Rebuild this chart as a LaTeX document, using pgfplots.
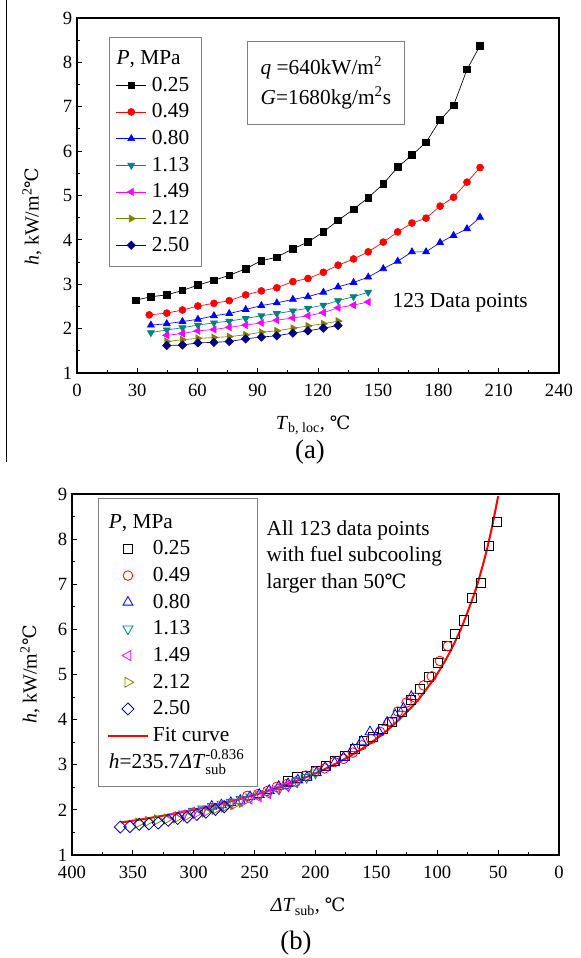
\documentclass[border=0pt]{standalone}
\usepackage{pgfplots}
\pgfplotsset{compat=1.18}
\usepackage{amsmath}
\usepackage{fontspec}
\setmainfont{Liberation Serif}
\newfontfamily\dejavu{DejaVu Serif}[Scale=0.92]
\newcommand{\dC}{{\dejavu ℃}}
\definecolor{oteal}{RGB}{0,128,128}
\definecolor{omag}{RGB}{255,0,255}
\definecolor{oolive}{RGB}{128,128,0}
\definecolor{onavy}{RGB}{0,0,128}
\pgfplotsset{
  myax/.style={
    scale only axis,
    axis line style={line width=0.8pt},
    tick align=inside,
    xtick pos=left, ytick pos=left,
    minor tick num=1,
    major tick length=3.75pt, minor tick length=2.25pt,
    every tick/.style={line width=0.7pt, black},
    ymin=1, ymax=9, ytick={1,2,...,9},
    tick label style={font=\fontsize{14}{16}\selectfont},
    /pgf/number format/assume math mode=true,
    xticklabel style={yshift=-5pt},
    legend cell align=left,
    label style={font=\fontsize{15}{17}\selectfont},
  }
}
\begin{document}
\begin{tikzpicture}
\path[use as bounding box] (0pt,0pt) rectangle (435.75pt,-718.5pt);
\draw[line width=0.75pt] (4.5pt,0pt) -- (4.5pt,-346.5pt);
% ---------- panel (a) ----------
\begin{axis}[myax,
  at={(57.75pt,-279.75pt)}, anchor=south west,
  width=361.5pt, height=266.25pt,
  xmin=0, xmax=240, xtick={0,30,...,240},
  xlabel={\textit{T}\textsubscript{b, loc}, \dC},
  ylabel={\textit{h}, kW/m\textsuperscript{2}\dC},
  x label style={at={(axis description cs:0.49,-0.1465)}, anchor=center},
  y label style={at={(axis description cs:-0.0934,0.44)}, anchor=center},
  legend image code/.code={\draw[mark repeat=2,mark phase=2,#1] plot coordinates {(0pt,0pt) (11.25pt,0pt) (22.5pt,0pt)};},
  legend style={at={(0.0664,0.9465)}, anchor=north west, draw=gray, inner xsep=5pt, inner ysep=6pt,
    font=\fontsize{16}{18}\selectfont, row sep=0pt,
    nodes={inner xsep=4pt, inner ysep=0pt, text height=14.5pt, text depth=5.5pt}},
]
\addlegendimage{empty legend}\addlegendentry{\hspace*{-26.5pt}\textit{P}, MPa}
\addplot[black, line width=0.5pt, mark=square*, mark size=2.5pt] coordinates {(29.2,2.64)(36.8,2.72)(44.7,2.76)(52.5,2.86)(60.2,2.98)(68.2,3.09)(75.8,3.20)(84.0,3.35)(91.8,3.53)(99.5,3.61)(107.5,3.80)(115.0,3.95)(122.7,4.18)(130.0,4.44)(137.7,4.69)(145.0,4.95)(152.5,5.26)(159.7,5.64)(166.8,5.91)(173.8,6.20)(180.8,6.70)(187.5,7.03)(194.2,7.84)(200.7,8.38)};
\addlegendentry{0.25}
\addplot[red, line width=0.5pt, mark=*, mark size=2.6pt] coordinates {(36.0,2.31)(44.7,2.35)(52.5,2.42)(60.2,2.51)(68.2,2.57)(75.8,2.63)(84.0,2.76)(91.8,2.85)(99.5,2.92)(107.5,3.06)(115.0,3.13)(122.7,3.27)(130.0,3.43)(137.7,3.57)(145.0,3.73)(152.5,3.95)(159.7,4.18)(166.8,4.38)(173.8,4.49)(180.8,4.76)(187.5,4.96)(194.2,5.30)(200.7,5.63)};
\addlegendentry{0.49}
\addplot[blue, line width=0.5pt, mark=triangle*, mark size=3pt] coordinates {(36.8,2.08)(44.7,2.11)(52.5,2.16)(60.2,2.21)(68.2,2.29)(75.8,2.34)(84.0,2.43)(91.8,2.52)(99.5,2.58)(107.5,2.66)(115.0,2.72)(122.7,2.82)(130.0,2.94)(137.7,3.04)(145.0,3.16)(152.5,3.35)(159.7,3.52)(166.8,3.73)(173.8,3.73)(180.8,3.94)(187.5,4.10)(194.2,4.25)(200.7,4.51)};
\addlegendentry{0.80}
\addplot[oteal, line width=0.5pt, mark=triangle*, mark size=3pt, mark options={rotate=180}] coordinates {(36.8,1.91)(44.7,1.97)(52.5,2.02)(60.2,2.08)(68.2,2.13)(75.8,2.17)(84.0,2.23)(91.8,2.29)(99.5,2.34)(107.5,2.40)(115.0,2.46)(122.7,2.53)(130.0,2.63)(137.7,2.72)(145.0,2.82)};
\addlegendentry{1.13}
\addplot[omag, line width=0.5pt, mark=triangle*, mark size=3pt, mark options={rotate=90}] coordinates {(44.7,1.85)(52.5,1.89)(60.2,1.95)(68.2,1.98)(75.8,2.03)(84.0,2.08)(91.8,2.13)(99.5,2.19)(107.5,2.24)(115.0,2.29)(122.7,2.36)(130.0,2.47)(137.7,2.53)(145.0,2.60)};
\addlegendentry{1.49}
\addplot[oolive, line width=0.5pt, mark=triangle*, mark size=3pt, mark options={rotate=-90}] coordinates {(44.7,1.71)(52.5,1.75)(60.2,1.78)(68.2,1.80)(75.8,1.82)(84.0,1.86)(91.8,1.92)(99.5,1.95)(107.5,2.01)(115.0,2.06)(122.7,2.11)(130.0,2.17)};
\addlegendentry{2.12}
\addplot[onavy, line width=0.5pt, mark=square*, mark size=2.2pt, mark options={rotate=45}] coordinates {(44.7,1.62)(52.5,1.63)(60.2,1.68)(68.2,1.69)(75.8,1.71)(84.0,1.77)(91.8,1.81)(99.5,1.84)(107.5,1.90)(115.0,1.95)(122.7,2.01)(130.0,2.07)};
\addlegendentry{2.50}
\node[draw=gray, anchor=north west, align=left, font=\fontsize{16}{22.5}\selectfont, minimum width=117.75pt, minimum height=62.25pt] at (rel axis cs:0.353,0.935) {\textit{q} =640kW/m\textsuperscript{2}\\\textit{G}=1680kg/m\textsuperscript{2}s};
\node[font=\fontsize{16}{18}\selectfont] at (rel axis cs:0.795,0.197) {123 Data points};
\end{axis}
\node[font=\fontsize{20}{22}\selectfont] at (232.5pt,-339pt) {(a)};
% ---------- panel (b) ----------
\begin{axis}[myax,
  at={(54pt,-641.25pt)}, anchor=south west,
  width=365.25pt, height=270.75pt,
  x dir=reverse,
  xmin=0, xmax=400, xtick={0,50,...,400},
  xlabel={\textit{ΔT}\textsubscript{sub}, \dC},
  ylabel={\textit{h}, kW/m\textsuperscript{2}\dC},
  x label style={at={(axis description cs:0.485,-0.1433)}, anchor=center},
  y label style={at={(axis description cs:-0.0862,0.50)}, anchor=center},
  legend image code/.code={\draw[mark repeat=2,mark phase=2,#1] plot coordinates {(0pt,0pt) (15pt,0pt) (30pt,0pt)};},
  legend style={at={(0.0534,0.989)}, anchor=north west, draw=gray, inner xsep=6.5pt, inner ysep=8pt,
    font=\fontsize{16}{18}\selectfont, row sep=0pt,
    nodes={inner xsep=3pt, inner ysep=0pt, text height=14.5pt, text depth=5.5pt}},
]
\addlegendimage{empty legend}\addlegendentry{\hspace*{-33pt}\textit{P}, MPa}
\addplot[only marks, black, line width=0.6pt, mark=square, mark size=3.4pt] coordinates {(222.8,2.64)(215.2,2.72)(207.3,2.76)(199.5,2.86)(191.8,2.98)(183.8,3.09)(176.2,3.20)(168.0,3.35)(160.2,3.53)(152.5,3.61)(144.5,3.80)(137.0,3.95)(129.3,4.18)(122.0,4.44)(114.3,4.69)(107.0,4.95)(99.5,5.26)(92.3,5.64)(85.2,5.91)(78.2,6.20)(71.2,6.70)(64.5,7.03)(57.8,7.84)(51.3,8.38)};
\addlegendentry{0.25}
\addplot[only marks, red, line width=0.6pt, mark=o, mark size=3.6pt] coordinates {(256.0,2.31)(247.3,2.35)(239.5,2.42)(231.8,2.51)(223.8,2.57)(216.2,2.63)(208.0,2.76)(200.2,2.85)(192.5,2.92)(184.5,3.06)(177.0,3.13)(169.3,3.27)(162.0,3.43)(154.3,3.57)(147.0,3.73)(139.5,3.95)(132.3,4.18)(125.2,4.38)(118.2,4.49)(111.2,4.76)(104.5,4.96)(97.8,5.30)(91.3,5.63)};
\addlegendentry{0.49}
\addplot[only marks, blue, line width=0.6pt, mark=triangle, mark size=4.3pt] coordinates {(285.2,2.08)(277.3,2.11)(269.5,2.16)(261.8,2.21)(253.8,2.29)(246.2,2.34)(238.0,2.43)(230.2,2.52)(222.5,2.58)(214.5,2.66)(207.0,2.72)(199.3,2.82)(192.0,2.94)(184.3,3.04)(177.0,3.16)(169.5,3.35)(162.3,3.52)(155.2,3.73)(148.2,3.73)(141.2,3.94)(134.5,4.10)(127.8,4.25)(121.3,4.51)};
\addlegendentry{0.80}
\addplot[only marks, oteal, line width=0.6pt, mark=triangle, mark size=4.3pt, mark options={rotate=180}] coordinates {(308.2,1.91)(300.3,1.97)(292.5,2.02)(284.8,2.08)(276.8,2.13)(269.2,2.17)(261.0,2.23)(253.2,2.29)(245.5,2.34)(237.5,2.40)(230.0,2.46)(222.3,2.53)(215.0,2.63)(207.3,2.72)(200.0,2.82)};
\addlegendentry{1.13}
\addplot[only marks, omag, line width=0.6pt, mark=triangle, mark size=4.3pt, mark options={rotate=90}] coordinates {(317.3,1.85)(309.5,1.89)(301.8,1.95)(293.8,1.98)(286.2,2.03)(278.0,2.08)(270.2,2.13)(262.5,2.19)(254.5,2.24)(247.0,2.29)(239.3,2.36)(232.0,2.47)(224.3,2.53)(217.0,2.60)};
\addlegendentry{1.49}
\addplot[only marks, oolive, line width=0.6pt, mark=triangle, mark size=4.3pt, mark options={rotate=-90}] coordinates {(345.3,1.71)(337.5,1.75)(329.8,1.78)(321.8,1.80)(314.2,1.82)(306.0,1.86)(298.2,1.92)(290.5,1.95)(282.5,2.01)(275.0,2.06)(267.3,2.11)(260.0,2.17)};
\addlegendentry{2.12}
\addplot[only marks, onavy!80!blue, line width=0.6pt, mark=square, mark size=3.2pt, mark options={rotate=45}] coordinates {(360.3,1.62)(352.5,1.63)(344.8,1.68)(336.8,1.69)(329.2,1.71)(321.0,1.77)(313.2,1.81)(305.5,1.84)(297.5,1.90)(290.0,1.95)(282.3,2.01)(275.0,2.07)};
\addlegendentry{2.50}
\addplot[red, line width=1.5pt, smooth, no marks] coordinates {(360,1.719)(340,1.803)(320,1.898)(300,2.003)(280,2.120)(260,2.256)(240,2.412)(220,2.595)(200,2.811)(180,3.070)(160,3.386)(140,3.787)(120,4.308)(110,4.635)(100,5.016)(90,5.477)(80,6.047)(70,6.757)(65,7.189)(60,7.687)(55,8.269)(50,8.953)};
\addlegendentry{Fit curve}
\addlegendimage{empty legend}\addlegendentry{\hspace*{-33pt}\textit{h}=235.7\textit{ΔT}$^{\text{-0.836}}_{\text{sub}}$}
\node[anchor=north west, align=left, font=\fontsize{16}{20}\selectfont] at (rel axis cs:0.39,0.94) {All 123 data points\\with fuel subcooling\\larger than 50\dC};
\end{axis}
\node[font=\fontsize{20}{22}\selectfont] at (222pt,-707pt) {(b)};
\end{tikzpicture}
\end{document}
